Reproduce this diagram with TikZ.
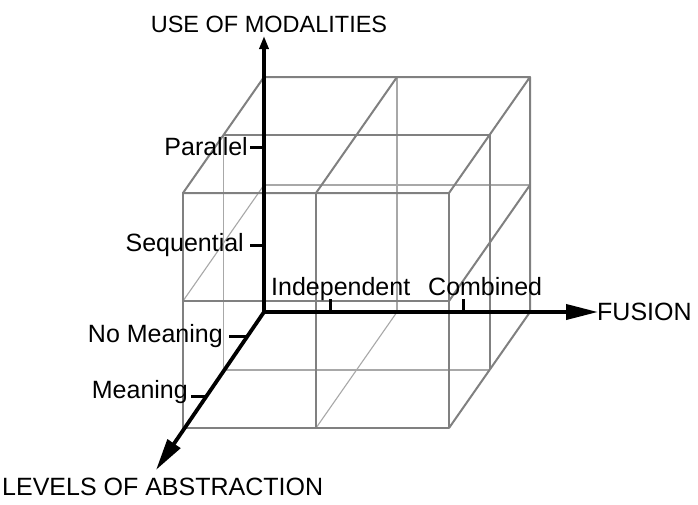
\documentclass[tikz,border=0pt]{standalone}
\usepackage{fontspec}
\setmainfont{Liberation Sans}
\usetikzlibrary{arrows.meta}
\definecolor{edgedark}{gray}{0.5}
\definecolor{edgelight}{gray}{0.66}
\begin{document}
\begin{tikzpicture}[x=1pt,y=-1pt,
  vis/.style={draw=edgedark, line width=2pt, line join=round},
  hid/.style={draw=edgelight, line width=1.1pt},
  axisline/.style={draw=black, line width=3.8pt, line join=miter},
  tickline/.style={draw=black, line width=3pt},
  lbl/.style={font=\fontsize{25}{30}\selectfont, inner sep=0pt, text=black}]
\useasboundingbox (0,0) rectangle (698,504);
\fill[white] (0,0) rectangle (698,504);

\begin{scope}[shift={(264,312)}, y={(0pt,1pt)}, z={(-81pt,-116pt)}]
  % hidden subdivision lines
  \draw[hid] (133,0,0) -- (133,235,0);
  \draw[hid] (0,127,0) -- (266,127,0);
  \draw[hid] (0,0,0.5) -- (0,235,0.5);
  \draw[hid] (0,127,0) -- (0,127,1);
  \draw[hid] (133,0,0) -- (133,0,1);
  \draw[hid] (0,0,0.5) -- (266,0,0.5);
  % top face
  \draw[vis] (0,235,0) -- (266,235,0) -- (266,235,1) -- (0,235,1) -- cycle;
  \draw[vis] (133,235,0) -- (133,235,1);
  \draw[vis] (0,235,0.5) -- (266,235,0.5);
  % front face
  \draw[vis] (0,0,1) -- (266,0,1) -- (266,235,1) -- (0,235,1) -- cycle;
  \draw[vis] (133,0,1) -- (133,235,1);
  \draw[vis] (0,127,1) -- (266,127,1);
  % right face
  \draw[vis] (266,0,1) -- (266,0,0) -- (266,235,0);
  \draw[vis] (266,0,0.5) -- (266,235,0.5);
  \draw[vis] (266,127,0) -- (266,127,1);
\end{scope}

% axes
\coordinate (O) at (264,312);
\coordinate (ytip) at (264,36);
\coordinate (xtip) at (598,312);
\coordinate (ztip) at (156,470);
\draw[axisline, {Triangle[length=13pt,width=9pt]}-{Triangle[length=32pt,width=15pt]}] (ytip) -- (O) -- (xtip);
\draw[axisline, -{Triangle[length=32pt,width=15pt]}] (O) -- (ztip);

% ticks
\coordinate (ty1a) at (250,147); \coordinate (ty1b) at (264,147);
\coordinate (ty2a) at (250,245); \coordinate (ty2b) at (264,245);
\coordinate (tx1a) at (330,299); \coordinate (tx1b) at (330,312);
\coordinate (tx2a) at (463,299); \coordinate (tx2b) at (463,312);
\coordinate (tz1a) at (229,336); \coordinate (tz1b) at (247,336);
\coordinate (tz2a) at (191,396); \coordinate (tz2b) at (206,396);
\draw[tickline] (ty1a) -- (ty1b);
\draw[tickline] (ty2a) -- (ty2b);
\draw[tickline] (tx1a) -- (tx1b);
\draw[tickline] (tx2a) -- (tx2b);
\draw[tickline] (tz1a) -- (tz1b);
\draw[tickline] (tz2a) -- (tz2b);

% labels
\node[lbl, anchor=base east] (par) at (248,155) {Parallel};
\node[lbl, anchor=base east] (seq) at (244,251) {Sequential};
\node[lbl, anchor=base east] (nom) at (223,342) {No Meaning};
\node[lbl, anchor=base east] (mea) at (188,398) {Meaning};
\node[lbl, anchor=base west] (ind) at (271,295) {Independent};
\node[lbl, anchor=base west] (com) at (428,295) {Combined};
\node[lbl, anchor=base west] (fus) at (597,320) {FUSION};
\node[lbl, anchor=base west] (lev) at (2,495) {LEVELS OF ABSTRACTION};
\node[lbl, anchor=base, font=\fontsize{23.5}{28}\selectfont] (use) at (269,32) {USE OF MODALITIES};
\end{tikzpicture}
\end{document}
